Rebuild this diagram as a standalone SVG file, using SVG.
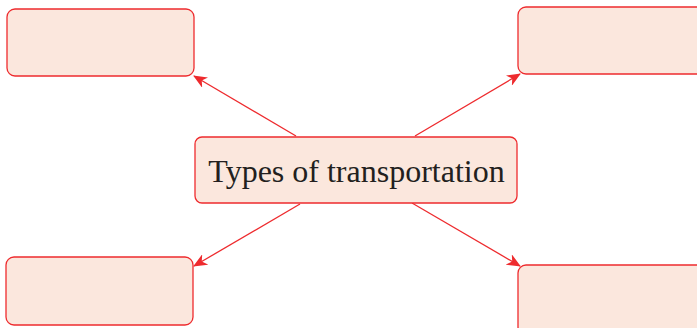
<svg xmlns="http://www.w3.org/2000/svg" width="697" height="328" viewBox="0 0 697 328">
<style>
.box{fill:#fbe7dd;stroke:#ee2b2e;stroke-width:1.3}
.conn{stroke:#ee2b2e;stroke-width:1.3;fill:none}
.lbl{font-family:"Liberation Serif","Times New Roman",serif;font-size:32px;fill:#231f20}
</style>
<defs>
<marker id="ah" viewBox="0 0 14 12" refX="13" refY="6" markerWidth="14" markerHeight="12" markerUnits="userSpaceOnUse" orient="auto">
<path d="M0,0 L14,6 L0,12 L4,6 Z" fill="#ee2b2e"/>
</marker>
</defs>
<g id="connectors">
<line class="conn" x1="296" y1="136" x2="194" y2="76" marker-end="url(#ah)"/>
<line class="conn" x1="415" y1="136" x2="520" y2="74" marker-end="url(#ah)"/>
<line class="conn" x1="300" y1="204" x2="194" y2="266" marker-end="url(#ah)"/>
<line class="conn" x1="412" y1="203" x2="520" y2="266" marker-end="url(#ah)"/>
</g>
<g id="node-center">
<rect class="box" x="195" y="137" width="322" height="66" rx="7"/>
<text class="lbl" x="356.5" y="182" text-anchor="middle">Types of transportation</text>
</g>
<g id="node-tl"><rect class="box" x="7" y="9" width="187" height="67" rx="8"/></g>
<g id="node-tr"><rect class="box" x="518" y="7" width="190" height="67" rx="8"/></g>
<g id="node-bl"><rect class="box" x="6" y="257" width="187" height="68" rx="8"/></g>
<g id="node-br"><rect class="box" x="518" y="265" width="190" height="70" rx="8"/></g>
</svg>
